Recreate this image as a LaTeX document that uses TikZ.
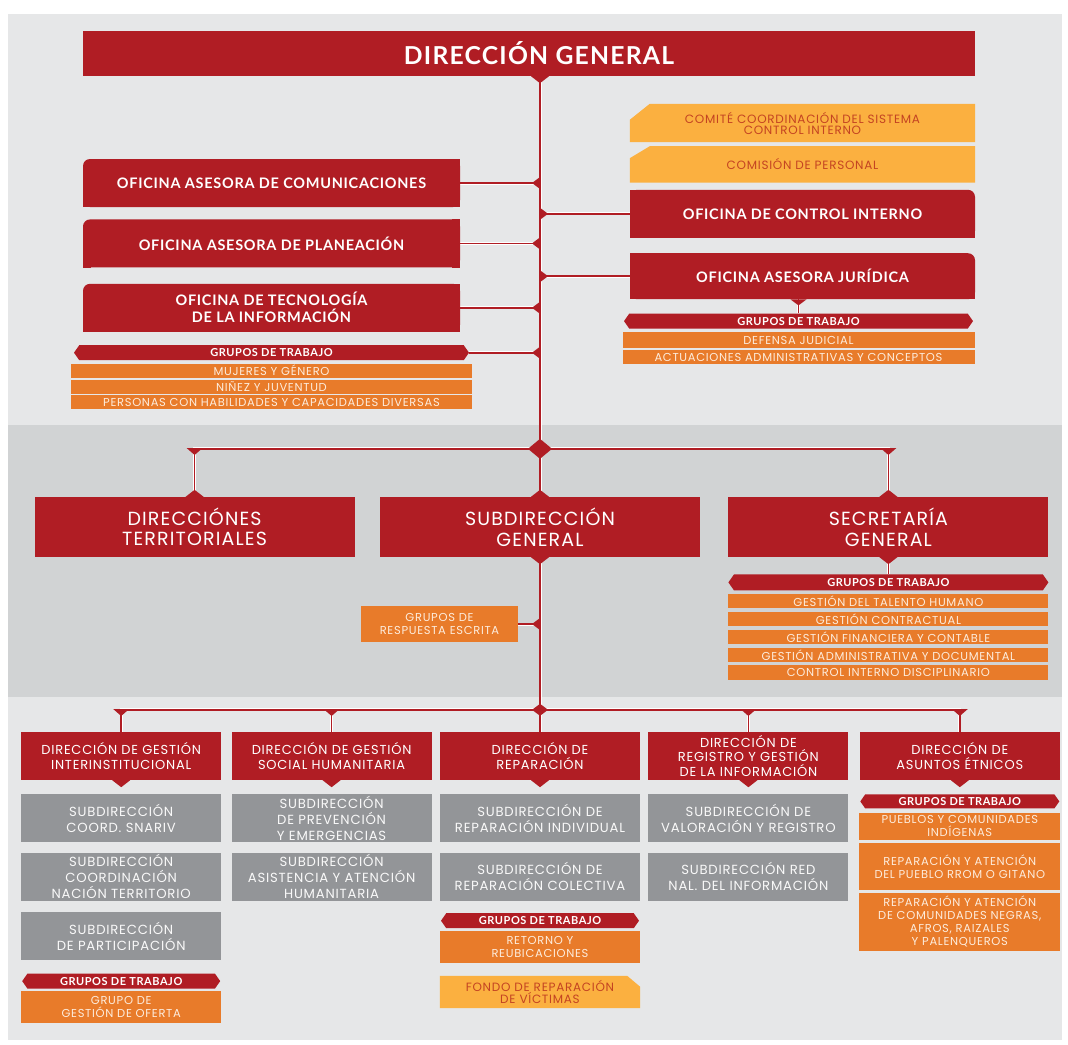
\documentclass[tikz,border=0pt]{standalone}
\usepackage{fontspec}
\setmainfont{Poppins}[LetterSpace=6]
\newfontfamily\headfont{Lato}[LetterSpace=5]
\usetikzlibrary{positioning, shapes.symbols}
\definecolor{OrgRed}{RGB}{176,29,36}
\definecolor{OrgOrange}{RGB}{232,123,42}
\definecolor{OrgGold}{RGB}{251,176,64}
\definecolor{OrgGoldText}{RGB}{196,68,34}
\definecolor{OrgGray}{RGB}{147,149,152}
\definecolor{PanelLite}{RGB}{230,231,232}
\definecolor{PanelDark}{RGB}{209,211,212}
\definecolor{PaleText}{RGB}{253,236,220}
\pgfdeclarelayer{panel}
\pgfdeclarelayer{wires}
\pgfsetlayers{panel,wires,main}
\tikzset{%
  chief/.style={%
    rectangle,%
    fill=OrgRed,%
    text=white,%
    inner sep=0pt,%
    minimum width=892pt,%
    minimum height=45pt,%
    font={\headfont\bfseries\fontsize{24.7}{28}\selectfont},%
  },
  office/.style={%
    rectangle,%
    rounded corners=7pt,%
    fill=OrgRed,%
    text=white,%
    inner sep=0pt,%
    minimum width=377pt,%
    minimum height=48pt,%
    align=center,%
    font={\headfont\bfseries\fontsize{14.5}{17}\selectfont},%
  },
  council/.style={%
    rectangle,%
    text=OrgGoldText,%
    inner sep=0pt,%
    minimum width=345pt,%
    align=center,%
    font={\fontsize{12}{11}\selectfont},%
  },
  tier/.style={%
    rectangle,%
    fill=OrgRed,%
    text=white,%
    inner sep=0pt,%
    minimum width=320pt,%
    minimum height=60pt,%
    align=center,%
    font={\fontsize{19}{20.5}\selectfont},%
  },
  dirbox/.style={%
    rectangle,%
    fill=OrgRed,%
    text=white,%
    inner sep=0pt,%
    minimum width=200pt,%
    minimum height=48pt,%
    align=center,%
    font={\fontsize{13}{14.5}\selectfont},%
  },
  subbox/.style={%
    dirbox,%
    fill=OrgGray,%
    text=white!94!OrgGray,%
    font={\fontsize{13.2}{16}\selectfont},%
  },
  groupbar/.style={%
    signal,%
    signal to=west and east,%
    signal pointer angle=110,%
    fill=OrgRed,%
    text=white,%
    inner sep=0pt,%
    minimum height=15pt,%
    font={\headfont\bfseries\fontsize{11}{11}\selectfont},%
  },
  task/.style={%
    rectangle,%
    fill=OrgOrange,%
    text=PaleText,%
    inner sep=0pt,%
    minimum height=14pt,%
    align=center,%
    font={\fontsize{11.5}{13}\selectfont},%
  },
  wire/.style={%
    draw=OrgRed,%
    line width=1.6pt,%
    preaction={draw=white, line width=3pt},%
  },
}

\begin{document}
\begin{tikzpicture}[x=1pt, y=1pt]
  \useasboundingbox (0,0) rectangle (1068,-1044);
  \begin{pgfonlayer}{panel}
    \fill[white] (0,0) rectangle (1068,-1044);
    \fill[PanelLite] (8,-14) rectangle (1062,-1040);
    \fill[PanelDark] (8,-425) rectangle (1062,-697);
  \end{pgfonlayer}

  % top level and advisory offices
  \node[chief] (dg) at (529,-53.5) {\hspace*{20pt}DIRECCIÓN GENERAL};
  \node[office] (ofcom) at (271.5,-183) {OFICINA ASESORA DE COMUNICACIONES};
  \node[office, below=12pt of ofcom] (ofplan) {OFICINA ASESORA DE PLANEACIÓN};
  \node[office, below=16pt of ofplan] (oftec) {OFICINA DE TECNOLOGÍA\\DE LA INFORMACIÓN};
  \node[groupbar, minimum width=395pt, below=13pt of oftec] (grpA) {GRUPOS DE TRABAJO};
  \node[task, minimum width=401pt, below=3pt of grpA] (mujer) {MUJERES Y GÉNERO};
  \node[task, minimum width=401pt, below=1.5pt of mujer] (ninez) {NIÑEZ Y JUVENTUD};
  \node[task, minimum width=401pt, below=1.5pt of ninez] (personas) {PERSONAS CON HABILIDADES Y CAPACIDADES DIVERSAS};

  \node[council, minimum height=38pt] (comite) at (802.5,-123) {COMITÉ COORDINACIÓN DEL SISTEMA\\CONTROL INTERNO};
  \node[council, minimum height=36pt, below=4pt of comite] (comision) {COMISIÓN DE PERSONAL};
  \node[office, minimum width=345pt, below=7pt of comision] (ofci) {OFICINA DE CONTROL INTERNO};
  \node[office, minimum width=345pt, minimum height=46pt, below=15pt of ofci] (ofjur) {OFICINA ASESORA JURÍDICA};
  \node[groupbar, minimum width=349pt, below=14pt of ofjur, xshift=-4pt] (grpB) {GRUPOS DE TRABAJO};
  \node[task, minimum width=352pt, minimum height=16pt, below=3pt of grpB] (defensa) {DEFENSA JUDICIAL};
  \node[task, minimum width=352pt, below=2pt of defensa] (actuac) {ACTUACIONES ADMINISTRATIVAS Y CONCEPTOS};

  % square off the corners that are not rounded
  \foreach \n in {ofcom, ofplan, oftec} {
    \fill[OrgRed] (\n.south west) rectangle ++(8,8);
    \fill[OrgRed] (\n.south east) rectangle ++(-8,8);
    \fill[OrgRed] (\n.north east) rectangle ++(-8,-8);
  }
  \foreach \n in {ofci, ofjur} {
    \fill[OrgRed] (\n.south west) rectangle ++(8,8);
    \fill[OrgRed] (\n.south east) rectangle ++(-8,8);
    \fill[OrgRed] (\n.north west) rectangle ++(8,-8);
  }

  % second level
  \node[tier] (subg) at (540,-527) {SUBDIRECCIÓN\\GENERAL};
  \node[tier, left=25pt of subg] (dirterr) {DIRECCIÓNES\\TERRITORIALES};
  \node[tier, right=28pt of subg] (secg) {SECRETARÍA\\GENERAL};
  \node[task, minimum width=157pt, minimum height=36pt] (resp) at (439.5,-624) {GRUPOS DE\\RESPUESTA ESCRITA};
  \node[groupbar, minimum width=320pt, minimum height=16pt, below=17pt of secg] (grpC) {GRUPOS DE TRABAJO};
  \node[task, minimum width=320pt, minimum height=14.5pt, below=3pt of grpC] (talento) {GESTIÓN DEL TALENTO HUMANO};
  \node[task, minimum width=320pt, minimum height=14.5pt, below=3pt of talento] (contrac) {GESTIÓN CONTRACTUAL};
  \node[task, minimum width=320pt, minimum height=14.5pt, below=3pt of contrac] (financ) {GESTIÓN FINANCIERA Y CONTABLE};
  \node[task, minimum width=320pt, minimum height=14.5pt, below=3pt of financ] (admdoc) {GESTIÓN ADMINISTRATIVA Y DOCUMENTAL};
  \node[task, minimum width=320pt, minimum height=14.5pt, below=3pt of admdoc] (discip) {CONTROL INTERNO DISCIPLINARIO};

  % third level
  \node[dirbox] (repar) at (540,-756) {DIRECCIÓN DE\\REPARACIÓN};
  \node[dirbox, left=8pt of repar] (social) {DIRECCIÓN DE GESTIÓN\\SOCIAL HUMANITARIA};
  \node[dirbox, left=10pt of social] (gestint) {DIRECCIÓN DE GESTIÓN\\INTERINSTITUCIONAL};
  \node[dirbox, right=8pt of repar] (regis) {DIRECCIÓN DE\\REGISTRO Y GESTIÓN\\DE LA INFORMACIÓN};
  \node[dirbox, right=11pt of regis] (etnic) {DIRECCIÓN DE\\ASUNTOS ÉTNICOS};

  \node[subbox, below=14pt of gestint] (snariv) {SUBDIRECCIÓN\\COORD. SNARIV};
  \node[subbox, below=10pt of snariv] (nacter) {SUBDIRECCIÓN\\COORDINACIÓN\\NACIÓN TERRITORIO};
  \node[subbox, below=11pt of nacter] (partic) {SUBDIRECCIÓN\\DE PARTICIPACIÓN};
  \node[groupbar, minimum width=198pt, below=13pt of partic] (grpD) {GRUPOS DE TRABAJO};
  \node[task, minimum width=200pt, minimum height=32pt, below=2pt of grpD] (oferta) {GRUPO DE\\GESTIÓN DE OFERTA};

  \node[subbox, below=14pt of social] (prevem) {SUBDIRECCIÓN\\DE PREVENCIÓN\\Y EMERGENCIAS};
  \node[subbox, below=10pt of prevem] (asiste) {SUBDIRECCIÓN\\ASISTENCIA Y ATENCIÓN\\HUMANITARIA};

  \node[subbox, below=14pt of repar] (repind) {SUBDIRECCIÓN DE\\REPARACIÓN INDIVIDUAL};
  \node[subbox, below=10pt of repind] (repcol) {SUBDIRECCIÓN DE\\REPARACIÓN COLECTIVA};
  \node[groupbar, minimum width=198pt, below=12pt of repcol] (grpE) {GRUPOS DE TRABAJO};
  \node[task, minimum width=200pt, minimum height=32pt, below=2pt of grpE] (retorno) {RETORNO Y\\REUBICACIONES};
  \node[council, minimum width=200pt, minimum height=32pt, below=13pt of retorno] (fondo) {FONDO DE REPARACIÓN\\DE VÍCTIMAS};

  \node[subbox, below=14pt of regis] (valreg) {SUBDIRECCIÓN DE\\VALORACIÓN Y REGISTRO};
  \node[subbox, below=10pt of valreg] (rednal) {SUBDIRECCIÓN RED\\NAL. DEL INFORMACIÓN};

  \node[groupbar, minimum width=199pt, minimum height=14pt, below=14pt of etnic] (grpF) {GRUPOS DE TRABAJO};
  \node[task, minimum width=201pt, minimum height=27pt, below=4pt of grpF] (pueblos) {PUEBLOS Y COMUNIDADES\\INDÍGENAS};
  \node[task, minimum width=201pt, minimum height=47pt, below=3pt of pueblos] (rrom) {REPARACIÓN Y ATENCIÓN\\DEL PUEBLO RROM O GITANO};
  \node[task, minimum width=201pt, minimum height=58pt, below=2pt of rrom] (negras) {REPARACIÓN Y ATENCIÓN\\DE COMUNIDADES NEGRAS,\\AFROS, RAIZALES\\Y PALENQUEROS};

  \coordinate (midbar) at ([yshift=48pt]subg.north);
  \coordinate (lowbar) at ([yshift=22pt]repar.north);

  % connectors, and the cut gold boxes behind their texts
  \begin{pgfonlayer}{wires}
    \fill[OrgGold] (comite.south west) -- ([yshift=-16pt]comite.north west) -- ([xshift=20pt]comite.north west) -- (comite.north east) -- (comite.south east) -- cycle;
    \fill[OrgGold] (comision.south west) -- ([yshift=-12pt]comision.north west) -- ([xshift=20pt]comision.north west) -- (comision.north east) -- (comision.south east) -- cycle;
    \fill[OrgGold] (fondo.south west) -- (fondo.north west) -- ([xshift=-13pt]fondo.north east) -- ([yshift=-11pt]fondo.north east) -- (fondo.south east) -- cycle;

    \draw[wire] (dg.south -| subg) -- (subg.north);
    \draw[wire] (subg.south) -- (repar.north);
    \foreach \n in {ofcom, ofplan, oftec, grpA, resp}
      \draw[wire] (\n.east) -- (\n -| subg);
    \foreach \n in {ofci, ofjur}
      \draw[wire] (\n.west) -- (\n -| subg);
    \draw[wire] (ofjur.south -| grpB) -- (grpB.north);
    \draw[wire] (dirterr.north) |- (midbar) -| (secg.north);
    \draw[wire] (secg.south) -- (grpC.north);
    \draw[wire] (gestint.north) |- (lowbar) -| (etnic.north);
    \draw[wire] (social.north) -- (social.north |- lowbar);
    \draw[wire] (regis.north) -- (regis.north |- lowbar);
  \end{pgfonlayer}

  % wedges on the trunk
  \foreach \n in {ofcom, ofplan, oftec, grpA, resp}
    \fill[OrgRed] (\n -| subg) ++(0,6) -- ++(-8,-6) -- ++(8,-6) -- cycle;
  \foreach \n in {ofci, ofjur}
    \fill[OrgRed] (\n -| subg) ++(0,6) -- ++(8,-6) -- ++(-8,-6) -- cycle;

  % bumps on the boxes
  \fill[OrgRed] (dg.south -| subg) ++(-9,0) -- ++(18,0) -- ++(-9,-7) -- cycle;
  \fill[OrgRed] (ofjur.south -| grpB) ++(-8,0) -- ++(16,0) -- ++(-8,-6) -- cycle;
  \foreach \n in {subg, secg, gestint, social, repar, regis, etnic}
    \fill[OrgRed] (\n.south) ++(-9,0) -- ++(18,0) -- ++(-9,-7) -- cycle;
  \foreach \n in {dirterr, subg, secg}
    \fill[OrgRed] (\n.north) ++(-9,0) -- ++(18,0) -- ++(-9,7) -- cycle;

  % tees and diamonds on the bars
  \foreach \n in {dirterr, secg}
    \fill[OrgRed] (\n.north |- midbar) ++(-8,0.8) -- ++(16,0) -- ++(-8,-7) -- cycle;
  \foreach \n in {gestint, social, regis, etnic}
    \fill[OrgRed] (\n.north |- lowbar) ++(-8,0.8) -- ++(16,0) -- ++(-8,-7) -- cycle;
  \fill[OrgRed] (midbar) ++(-12,0) -- ++(12,10) -- ++(12,-10) -- ++(-12,-10) -- cycle;
  \fill[OrgRed] (lowbar) ++(-8,0) -- ++(8,6) -- ++(8,-6) -- ++(-8,-6) -- cycle;
\end{tikzpicture}
\end{document}
